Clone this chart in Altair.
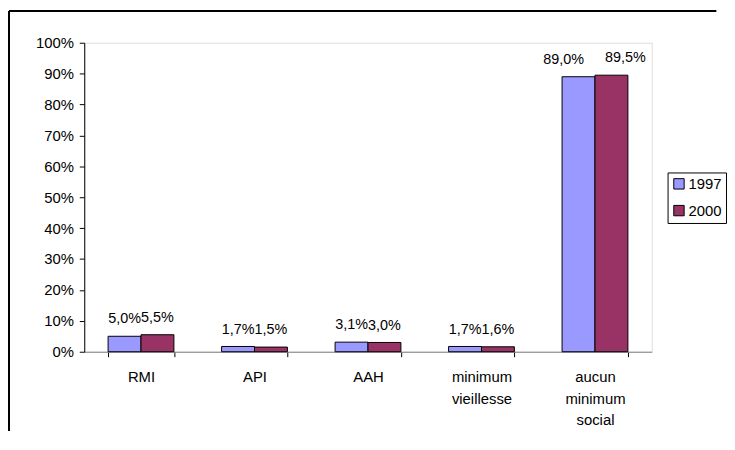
import altair as alt
import pandas as pd

categories = ["RMI", "API", "AAH", "minimum vieillesse", "aucun minimum social"]
years = ["1997", "2000"]
values_1997 = [0.050, 0.017, 0.031, 0.017, 0.890]
values_2000 = [0.055, 0.015, 0.030, 0.016, 0.895]
colors = ["#9999FF", "#993366"]

rows = []
for c, v1, v2 in zip(categories, values_1997, values_2000):
    for y, v in zip(years, (v1, v2)):
        rows.append({"cat": c, "year": y, "value": v,
                     "label": f"{v*100:.1f}%".replace(".", ",")})
df = pd.DataFrame(rows)

FONT = "Liberation Sans"
W, H = 573, 312

x_enc = alt.X("cat:N", sort=categories, title=None,
              scale=alt.Scale(paddingInner=0.42, paddingOuter=0.21),
              axis=alt.Axis(labelAngle=0, tickBand="extent", labelExpr="split(datum.label, ' ')",
                            labelFont=FONT, labelFontSize=15, labelColor="#000000",
                            labelPadding=13, labelLineHeight=22, labelBaseline="top",
                            domainColor="#808080", tickColor="#000000", tickSize=5,
                            labelLimit=200, labelOverlap=False))
y_enc = alt.Y("value:Q", title=None,
              scale=alt.Scale(domain=[0, 1]),
              axis=alt.Axis(format=".0%", values=[i / 10 for i in range(11)],
                            grid=False, labelFont=FONT, labelFontSize=15,
                            labelColor="#000000", labelPadding=6, labelOverlap=False,
                            labelFlush=False,
                            domainColor="#000000", tickColor="#000000", tickSize=5))

base = alt.Chart(df).encode(
    x=x_enc,
    xOffset=alt.XOffset("year:N", sort=years),
    y=y_enc,
)

bars = base.mark_bar(stroke="#000000", strokeWidth=1).encode(
    color=alt.Color("year:N", sort=years, title=None,
                    scale=alt.Scale(domain=years, range=colors),
                    legend=alt.Legend(orient="none", legendX=589, legendY=131,
                                      symbolType="square", symbolSize=110,
                                      symbolStrokeColor="#000000", symbolStrokeWidth=1,
                                      labelFont=FONT, labelFontSize=15, labelColor="#000000",
                                      strokeColor="#000000", padding=4, rowPadding=11,
                                      labelOffset=2, fillColor="#FFFFFF")),
)

def text_layer(dx, cond):
    return base.mark_text(font=FONT, fontSize=14.5, color="#000000",
                          baseline="middle", dy=-17, dx=dx).encode(
        text="label:N",
    ).transform_filter(cond)

texts_small = text_layer(0, "datum.value < 0.5")
texts_big_a = text_layer(-15, "datum.value >= 0.5 && datum.year == '1997'")
texts_big_b = text_layer(14, "datum.value >= 0.5 && datum.year == '2000'")

frame_top = alt.Chart(df).mark_rule(color="#000000", strokeWidth=1).encode(
    x=alt.value(-76), x2=alt.value(638), y=alt.value(-32)
)
frame_left = alt.Chart(df).mark_rule(color="#000000", strokeWidth=1).encode(
    x=alt.value(-76), y=alt.value(-32), y2=alt.value(392)
)

chart = alt.layer(frame_top, frame_left, bars, texts_small, texts_big_a, texts_big_b).properties(
    width=W, height=H, padding=0
).configure_view(stroke=None).configure(background="#FFFFFF")

chart.save("out.html", embed_options={"renderer": "svg", "actions": False})
